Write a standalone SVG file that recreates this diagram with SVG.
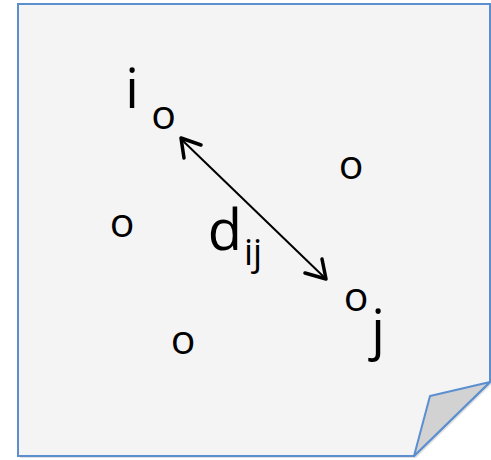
<svg xmlns="http://www.w3.org/2000/svg" width="491" height="460" viewBox="0 0 491 460">
<style>
.t{font-family:"Open Sans","Noto Sans",sans-serif;fill:#000;text-anchor:middle}
.o{font-size:41px}
.page{fill:#f4f4f4;stroke:#5b8fd0;stroke-width:2;stroke-linejoin:miter}
.fold{fill:#d2d2d2;stroke:#5b8fd0;stroke-width:2;stroke-linejoin:round}
.head{fill:none;stroke:#000;stroke-width:3.5;stroke-linecap:round;stroke-linejoin:round}
</style>
<g id="page">
<path d="M20,6 H492 V384 L416,458 H20 Z" fill="#000" opacity="0.12"/>
<path class="page" d="M18,4 H490 V382 L414,456 H18 Z"/>
<path class="fold" d="M490,382 L430,396 L414,456 Z"/>
</g>
<g id="connectors">
<line x1="181" y1="139" x2="326" y2="279" stroke="#000" stroke-width="2"/>
<path class="head" d="M201,145 L181,138 L184,158"/>
<path class="head" d="M305,273 L326,279 L322,259"/>
</g>
<g id="node-i">
<text class="t" x="132" y="108" font-size="54">i</text>
<text class="t o" x="163.5" y="129">o</text>
</g>
<g id="node-a"><text class="t o" x="351" y="179">o</text></g>
<g id="node-b"><text class="t o" x="122" y="237">o</text></g>
<g id="node-c"><text class="t o" x="183" y="354">o</text></g>
<g id="node-j">
<text class="t o" x="356" y="311">o</text>
<text class="t" x="378" y="349" font-size="54">j</text>
</g>
<g id="label-d">
<text class="t" x="225" y="250" font-size="56">d</text>
<text class="t" x="253" y="265" font-size="36">ij</text>
</g>
</svg>
